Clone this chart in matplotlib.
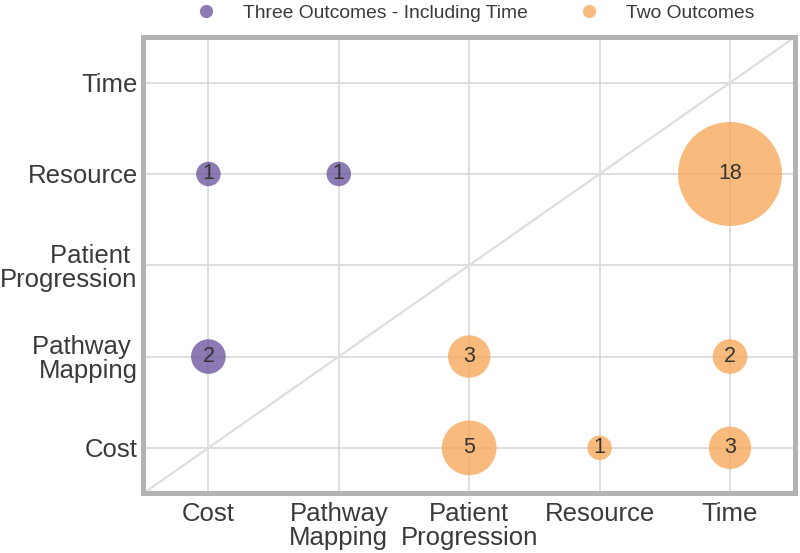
import matplotlib.pyplot as plt
from matplotlib.lines import Line2D

plt.rcParams['font.family'] = ['Liberation Sans', 'DejaVu Sans']

categories = ["Cost", "Pathway\nMapping", "Patient\nProgression", "Resource", "Time"]
y_labels = ["Cost", "Pathway \nMapping", "Patient \nProgression", "Resource", "Time"]

# three outcomes including time (purple)
three_x = [0, 1, 0]
three_y = [3, 3, 1]
three_n = [1, 1, 2]

# two outcomes (orange)
two_x = [4, 2, 4, 2, 3, 4]
two_y = [3, 1, 1, 0, 0, 0]
two_n = [18, 3, 2, 5, 1, 3]

purple = "#664e9b"
orange = "#f7a452"
size_per_unit = 311

fig = plt.figure(figsize=(8, 5.53), dpi=100)
ax = fig.add_axes([0.179, 0.1076, 0.815, 0.8255])

ax.set_xlim(-0.5, 4.5)
ax.set_ylim(-0.5, 4.5)
ax.set_axisbelow(True)
ax.grid(True, color="#d4d4d4", linewidth=1.1)
ax.plot([-0.5, 4.5], [-0.5, 4.5], color="#dedede", linewidth=1.6, zorder=1)

ax.scatter(three_x, three_y, s=[n * size_per_unit for n in three_n],
           color=purple, alpha=0.75, edgecolors="none", zorder=3)
ax.scatter(two_x, two_y, s=[n * size_per_unit for n in two_n],
           color=orange, alpha=0.75, edgecolors="none", zorder=3)

for x, y, n in zip(three_x + two_x, three_y + two_y, three_n + two_n):
    ax.text(x, y, str(n), ha="center", va="center", fontsize=15.5,
            color="#333333", zorder=4)

ax.set_xticks(range(5))
ax.set_xticklabels(categories, fontsize=18.5, color="#3a3a3a", linespacing=1.0)
ax.set_yticks(range(5))
ax.set_yticklabels(y_labels, fontsize=18.5, color="#3a3a3a", linespacing=1.0)
ax.tick_params(axis="y", length=0, pad=4)
ax.tick_params(axis="x", length=0, pad=6)

for sp in ax.spines.values():
    sp.set_color("#b3b3b3")
    sp.set_linewidth(3.6)

handles = [
    Line2D([], [], marker="o", linestyle="none", markersize=9.5,
           markerfacecolor=purple, markeredgecolor="none", alpha=0.75),
    Line2D([], [], marker="o", linestyle="none", markersize=9.5,
           markerfacecolor=orange, markeredgecolor="none", alpha=0.75),
]
fig.legend(handles, ["Three Outcomes - Including Time", "Two Outcomes"],
           loc="upper center", bbox_to_anchor=(0.588, 1.024), ncol=2,
           frameon=False, fontsize=13.9, labelcolor="#3a3a3a",
           columnspacing=2.16, handletextpad=0.92, handlelength=2.0)

fig.savefig("out.png", dpi=100)
